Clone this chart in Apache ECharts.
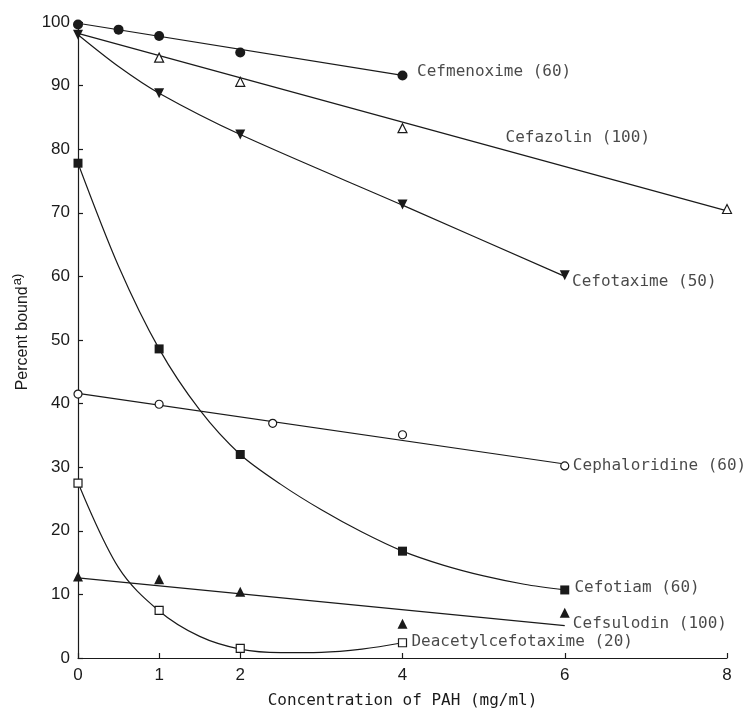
<!DOCTYPE html>
<html>
<head>
<meta charset="utf-8">
<script src="https://cdn.jsdelivr.net/npm/echarts@6/dist/echarts.min.js"></script>
<style>
  html, body { margin: 0; padding: 0; background: #fff; }
  #chart { width: 748px; height: 711px; }
</style>
</head>
<body>
<div id="chart"></div>
<script>
// values: [conc of PAH (mg/ml), percent bound]
var xTicks = [0, 1, 2, 4, 6, 8];

// measured points
var cefmenoximePts = [[0, 99.6], [0.5, 98.8], [1, 97.8], [2, 95.2], [4, 91.6]];
var cefazolinPts = [[1, 94.4], [2, 90.6], [4, 83.3], [8, 70.6]];
var cefotaximePts = [[0, 98.0], [1, 88.8], [2, 82.3], [4, 71.3], [6, 60.2]];
var cephaloridinePts = [[0, 41.5], [1, 39.9], [2.4, 36.9], [4, 35.1], [6, 30.2]];
var cefotiamPts = [[0, 77.8], [1, 48.6], [2, 32.0], [4, 16.8], [6, 10.7]];
var cefsulodinPts = [[0, 12.8], [1, 12.4], [2, 10.4], [4, 5.4], [6, 7.1]];
var deacetylPts = [[0, 27.5], [1, 7.5], [2, 1.5], [4, 2.4]];

// drawn fit lines / curves
var cefmenoximeFit = [[0, 99.8], [4, 91.6]];
var cefazolinFit = [[0, 98.2], [8, 70.3]];
var cefotaximeFit = [[0, 98.0], [0.5, 93.0], [1, 88.8], [2, 82.3], [4, 71.2], [6, 60.0]];
var cephaloridineFit = [[0, 41.6], [6, 30.5]];
var cefotiamFit = [[0, 77.8], [0.5, 61.6], [1, 48.6], [1.5, 39.0], [2, 32.0], [2.5, 27.3],
  [3, 23.3], [3.5, 19.8], [4, 16.8], [4.5, 14.6], [5, 12.9], [5.5, 11.6], [6, 10.7]];
var cefsulodinFit = [[0, 12.6], [6, 5.1]];
var deacetylFit = [[0, 27.6], [0.5, 14.2], [1, 7.4], [1.5, 3.4], [2, 1.4], [2.5, 0.85],
  [3, 0.9], [3.5, 1.4], [4, 2.4]];

var labelText = ['Cefmenoxime (60)', 'Cefazolin (100)', 'Cefotaxime (50)', 'Cephaloridine (60)',
  'Cefotiam (60)', 'Cefsulodin (100)', 'Deacetylcefotaxime (20)'];
var labelAt = [[4.18, 92.1], [5.27, 81.8], [6.09, 59.1], [6.1, 30.2], [6.12, 11.0], [6.1, 5.35], [4.11, 2.5]];

var ink = '#1a1a1a';
var mono = '"DejaVu Sans Mono", monospace';
var sans = '"Liberation Sans", Arial, sans-serif';

function fitLine(data, smooth) {
  return {
    type: 'line', data: data, smooth: smooth || false, showSymbol: false, silent: true,
    lineStyle: { color: ink, width: 1.2 }, z: 2
  };
}

function markers(data, symbol, size, open, rotate) {
  return {
    type: 'scatter', data: data, symbol: symbol, symbolSize: size, symbolRotate: rotate || 0,
    itemStyle: { color: open ? '#fff' : ink, borderColor: ink, borderWidth: open ? 1.2 : 0, opacity: 1 },
    z: 3
  };
}

var labelData = [];
for (var i = 0; i < labelText.length; i++) {
  labelData.push({ name: labelText[i], value: labelAt[i] });
}

var chart = echarts.init(document.getElementById('chart'));
var option = {
  animation: false,
  backgroundColor: '#fff',
  grid: { left: 78, right: 21, top: 22, bottom: 53, outerBoundsMode: 'none', containLabel: false },
  xAxis: {
    type: 'value', min: 0, max: 8, interval: 1,
    name: 'Concentration of PAH (mg/ml)', nameLocation: 'middle', nameGap: 35,
    nameTextStyle: { fontFamily: mono, fontSize: 16, color: ink },
    axisLine: { lineStyle: { color: ink, width: 1.2 } },
    axisTick: { inside: true, length: 5, customValues: xTicks, lineStyle: { color: ink, width: 1.2 } },
    axisLabel: { customValues: xTicks, margin: 9, fontFamily: sans, fontSize: 17, color: ink },
    splitLine: { show: false }
  },
  yAxis: {
    type: 'value', min: 0, max: 100, interval: 10,
    name: '{a|Percent bound}{s|a)}', nameLocation: 'middle', nameGap: 33,
    nameTextStyle: {
      color: ink, padding: [0, 0, 0, 16],
      rich: {
        a: { fontFamily: sans, fontSize: 16, color: ink },
        s: { fontFamily: sans, fontSize: 13, color: ink, verticalAlign: 'top', padding: [0, 0, 10, 1] }
      }
    },
    axisLine: { show: true, lineStyle: { color: ink, width: 1.2 } },
    axisTick: { show: true, inside: true, length: 5, lineStyle: { color: ink, width: 1.2 } },
    axisLabel: { margin: 8, fontFamily: sans, fontSize: 17, color: ink },
    splitLine: { show: false }
  },
  series: [
    fitLine(cefmenoximeFit),
    fitLine(cefazolinFit),
    fitLine(cefotaximeFit, 0.3),
    fitLine(cephaloridineFit),
    fitLine(cefotiamFit, 0.3),
    fitLine(cefsulodinFit),
    fitLine(deacetylFit, 0.35),
    markers(cefazolinPts, 'triangle', 9, true),
    markers(cefmenoximePts, 'circle', 10, false),
    markers(cefotaximePts, 'triangle', 10, false, 180),
    markers(cephaloridinePts, 'circle', 8, true),
    markers(cefotiamPts, 'rect', 9, false),
    markers(cefsulodinPts, 'triangle', 10, false),
    markers(deacetylPts, 'rect', 8, true),
    {
      type: 'scatter', data: labelData, symbolSize: 0, silent: true, z: 4,
      label: {
        show: true, position: 'right', distance: 0, formatter: '{b}',
        fontFamily: mono, fontSize: 16, color: ink
      }
    }
  ]
};
chart.setOption(option);
</script>
</body>
</html>
